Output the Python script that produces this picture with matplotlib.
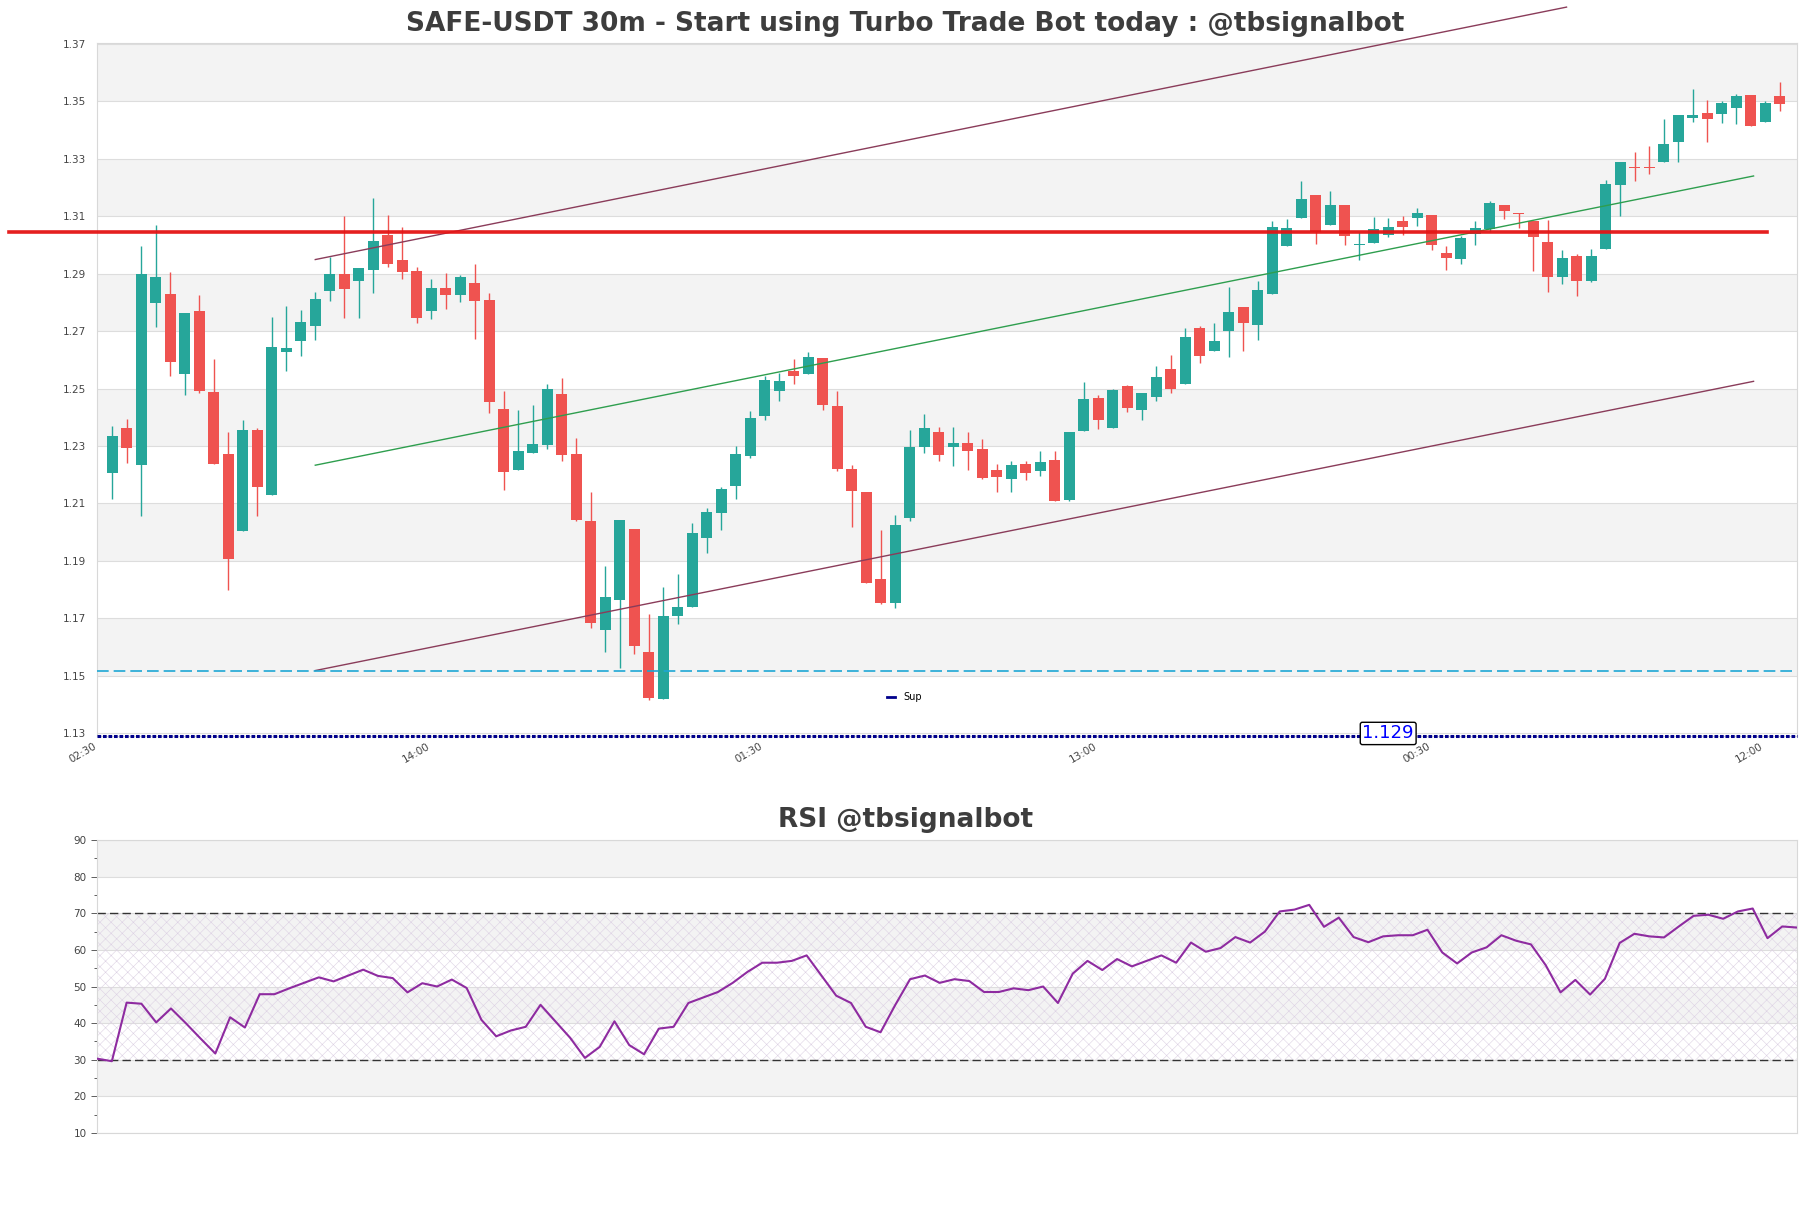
import matplotlib.pyplot as plt
from matplotlib.lines import Line2D
import numpy as np

# OHLC, 30m candles (first candle 03:00)
opens = [1.2206, 1.2364, 1.2234, 1.2798, 1.2828, 1.2552, 1.2769, 1.2489, 1.2271, 1.2003,
         1.2354, 1.2130, 1.2626, 1.2666, 1.2718, 1.2839, 1.2900, 1.2874, 1.2912, 1.3033,
         1.2946, 1.2908, 1.2769, 1.2849, 1.2827, 1.2868, 1.2809, 1.2428, 1.2215, 1.2274,
         1.2305, 1.2480, 1.2273, 1.2037, 1.1658, 1.1762, 1.2010, 1.1581, 1.1418, 1.1707,
         1.1741, 1.1980, 1.2068, 1.2161, 1.2265, 1.2403, 1.2493, 1.2561, 1.2552, 1.2606,
         1.2440, 1.2219, 1.2139, 1.1838, 1.1753, 1.2050, 1.2296, 1.2347, 1.2296, 1.2309,
         1.2288, 1.2215, 1.2185, 1.2236, 1.2213, 1.2250, 1.2113, 1.2351, 1.2468, 1.2362,
         1.2509, 1.2424, 1.2469, 1.2568, 1.2514, 1.2710, 1.2632, 1.2701, 1.2785, 1.2722,
         1.2829, 1.2995, 1.3092, 1.3174, 1.3068, 1.3139, 1.2998, 1.3008, 1.3035, 1.3084,
         1.3094, 1.3105, 1.2973, 1.2950, 1.3039, 1.3056, 1.3139, 1.3110, 1.3084, 1.3011,
         1.2888, 1.2963, 1.2874, 1.2985, 1.3210, 1.3273, 1.3273, 1.3288, 1.3358, 1.3441,
         1.3461, 1.3455, 1.3476, 1.3523, 1.3427, 1.3520]
highs = [1.2368, 1.2395, 1.2996, 1.3070, 1.2904, 1.2762, 1.2824, 1.2603, 1.2347, 1.2392,
         1.2364, 1.2748, 1.2786, 1.2772, 1.2835, 1.2957, 1.3102, 1.2921, 1.3164, 1.3104,
         1.3064, 1.2922, 1.2881, 1.2903, 1.2895, 1.2933, 1.2833, 1.2492, 1.2424, 1.2442,
         1.2515, 1.2536, 1.2327, 1.2141, 1.1881, 1.2041, 1.2010, 1.1714, 1.1810, 1.1855,
         1.2032, 1.2084, 1.2156, 1.2301, 1.2423, 1.2543, 1.2554, 1.2603, 1.2626, 1.2606,
         1.2493, 1.2232, 1.2139, 1.2009, 1.2058, 1.2357, 1.2412, 1.2367, 1.2367, 1.2347,
         1.2323, 1.2236, 1.2246, 1.2246, 1.2281, 1.2281, 1.2347, 1.2523, 1.2478, 1.2499,
         1.2513, 1.2485, 1.2579, 1.2617, 1.2710, 1.2719, 1.2727, 1.2854, 1.2785, 1.2875,
         1.3084, 1.3091, 1.3221, 1.3174, 1.3188, 1.3139, 1.3045, 1.3098, 1.3094, 1.3101,
         1.3129, 1.3105, 1.2997, 1.3032, 1.3084, 1.3153, 1.3139, 1.3110, 1.3084, 1.3087,
         1.2983, 1.2970, 1.2987, 1.3226, 1.3288, 1.3322, 1.3343, 1.3437, 1.3454, 1.3544,
         1.3506, 1.3502, 1.3527, 1.3523, 1.3502, 1.3568]
lows = [1.2116, 1.2241, 1.2055, 1.2715, 1.2545, 1.2479, 1.2483, 1.2237, 1.1798, 1.2003,
        1.2057, 1.2130, 1.2562, 1.2614, 1.2670, 1.2805, 1.2745, 1.2745, 1.2832, 1.2924,
        1.2881, 1.2727, 1.2743, 1.2776, 1.2800, 1.2672, 1.2416, 1.2146, 1.2215, 1.2274,
        1.2289, 1.2246, 1.2038, 1.1667, 1.1583, 1.1526, 1.1577, 1.1414, 1.1418, 1.1680,
        1.1738, 1.1928, 1.2009, 1.2115, 1.2258, 1.2389, 1.2455, 1.2514, 1.2552, 1.2424,
        1.2214, 1.2018, 1.1822, 1.1750, 1.1735, 1.2039, 1.2275, 1.2247, 1.2230, 1.2216,
        1.2184, 1.2140, 1.2140, 1.2182, 1.2196, 1.2109, 1.2109, 1.2351, 1.2358, 1.2362,
        1.2417, 1.2389, 1.2455, 1.2483, 1.2514, 1.2590, 1.2632, 1.2611, 1.2632, 1.2670,
        1.2829, 1.2995, 1.3092, 1.3002, 1.3068, 1.2998, 1.2947, 1.3008, 1.3028, 1.3035,
        1.3067, 1.2981, 1.2912, 1.2933, 1.3001, 1.3046, 1.3091, 1.3058, 1.2908, 1.2837,
        1.2863, 1.2822, 1.2870, 1.2985, 1.3102, 1.3223, 1.3247, 1.3288, 1.3289, 1.3429,
        1.3358, 1.3426, 1.3421, 1.3414, 1.3427, 1.3465]
closes = [1.2336, 1.2293, 1.2897, 1.2887, 1.2594, 1.2762, 1.2493, 1.2237, 1.1906, 1.2357,
          1.2158, 1.2644, 1.2640, 1.2731, 1.2810, 1.2897, 1.2846, 1.2921, 1.3015, 1.2932,
          1.2907, 1.2747, 1.2849, 1.2824, 1.2888, 1.2803, 1.2454, 1.2211, 1.2283, 1.2308,
          1.2498, 1.2268, 1.2042, 1.1683, 1.1773, 1.2041, 1.1603, 1.1422, 1.1707, 1.1738,
          1.1997, 1.2070, 1.2149, 1.2271, 1.2399, 1.2530, 1.2525, 1.2545, 1.2610, 1.2441,
          1.2219, 1.2144, 1.1822, 1.1753, 1.2025, 1.2298, 1.2361, 1.2268, 1.2309, 1.2282,
          1.2187, 1.2192, 1.2233, 1.2206, 1.2243, 1.2109, 1.2347, 1.2464, 1.2389, 1.2496,
          1.2431, 1.2485, 1.2540, 1.2497, 1.2679, 1.2614, 1.2665, 1.2768, 1.2729, 1.2842,
          1.3063, 1.3060, 1.3160, 1.3045, 1.3139, 1.3030, 1.3004, 1.3056, 1.3063, 1.3063,
          1.3112, 1.2998, 1.2953, 1.3025, 1.3060, 1.3146, 1.3118, 1.3106, 1.3026, 1.2887,
          1.2956, 1.2874, 1.2963, 1.3212, 1.3288, 1.3268, 1.3268, 1.3350, 1.3451, 1.3454,
          1.3437, 1.3495, 1.3520, 1.3414, 1.3495, 1.3490]

rsi = [30.3, 29.6, 45.6, 45.3, 40.2, 44.0, 40.0, 35.8, 31.7, 41.6,
       38.8, 47.9, 47.9, 49.5, 51.0, 52.5, 51.4, 53.0, 54.6, 52.9,
       52.3, 48.4, 50.9, 50.0, 51.9, 49.6, 40.9, 36.4, 38.0, 39.0,
       45.0, 40.5, 36.0, 30.5, 33.5, 40.5, 34.0, 31.5, 38.5, 39.0,
       45.5, 47.0, 48.5, 51.0, 54.0, 56.5, 56.5, 57.0, 58.5, 53.0,
       47.5, 45.5, 39.0, 37.5, 45.0, 52.0, 53.0, 51.0, 52.0, 51.5,
       48.5, 48.5, 49.5, 49.0, 50.0, 45.5, 53.5, 57.0, 54.5, 57.5,
       55.5, 57.0, 58.5, 56.5, 62.0, 59.5, 60.5, 63.5, 62.0, 65.0,
       70.5, 71.0, 72.3, 66.3, 68.8, 63.5, 62.1, 63.7, 64.0, 64.0,
       65.5, 59.3, 56.3, 59.3, 60.7, 64.0, 62.5, 61.5, 55.8, 48.4,
       51.8, 47.8, 52.1, 61.9, 64.4, 63.7, 63.4, 66.4, 69.3, 69.6,
       68.5, 70.5, 71.3, 63.2, 66.4, 66.1]

tick_labels = ['02:30', '14:00', '01:30', '13:00', '00:30', '12:00']

# channel / levels
upper_x, upper_y = [14.0, 100.3], [1.2949, 1.3828]
mid_x, mid_y = [14.0, 113.2], [1.2233, 1.3240]
lower_x, lower_y = [14.0, 113.2], [1.1518, 1.2525]
resist_x, resist_level = [-7.1, 114.1], 1.3045
support_level = 1.1515
sup_level = 1.129
sup_label_x = 88

UP = '#26a69a'
DOWN = '#ef5350'
BAND = '#f3f3f3'
GRID = '#dddddd'
TXT = '#444444'
NAVY = '#00008b'

plt.rcParams['hatch.linewidth'] = 0.4

fig = plt.figure(figsize=(18.11, 12.08), dpi=100)
ax = fig.add_axes([0.0536, 0.3907, 0.9387, 0.5737])
ax2 = fig.add_axes([0.0536, 0.0621, 0.9387, 0.2425])

# --- price chart ---
o = np.array(opens); h = np.array(highs); l = np.array(lows); c = np.array(closes)
x = np.arange(len(o))
up = c >= o
cols = np.where(up, UP, DOWN)
body_low = np.minimum(o, c)
body_h = np.maximum(np.abs(c - o), 0.0004)

yticks = np.round(np.arange(1.13, 1.3701, 0.02), 2)
for k in range(len(yticks) - 1):
    if k % 2 == 1:
        ax.axhspan(yticks[k], yticks[k + 1], color=BAND, lw=0, zorder=0)
for yt in yticks:
    ax.axhline(yt, color=GRID, lw=0.8, zorder=0.5)

ax.vlines(x, l, h, colors=cols, lw=1, zorder=2)
ax.bar(x, body_h, bottom=body_low, width=0.75, color=cols, zorder=3, lw=0)

ax.plot(upper_x, upper_y, color='#8a3c5a', lw=1, zorder=4, clip_on=False)
ax.plot(mid_x, mid_y, color='#2e9e4e', lw=1, zorder=4)
ax.plot(lower_x, lower_y, color='#8a3c5a', lw=1, zorder=4)
ax.plot(resist_x, [resist_level] * 2, color='#e41414', lw=2.6, alpha=0.95,
        zorder=4, clip_on=False)
ax.axhline(support_level, color='#1ea7d4', lw=1.2, ls=(0, (7, 3)), zorder=4)
ax.axhline(sup_level, color=NAVY, lw=2.2, ls=(0, (1.2, 0.6)), zorder=5,
           clip_on=False)
ax.text(sup_label_x, sup_level + 0.0009, f'{sup_level:.3f}', color='blue',
        fontsize=13, ha='center', va='center', zorder=6,
        bbox=dict(boxstyle='round,pad=0.12', fc='white', ec='black', lw=1))

ax.legend(handles=[Line2D([], [], color=NAVY, lw=2)], labels=['Sup'],
          loc='center', bbox_to_anchor=(0.475, 0.056), frameon=False,
          fontsize=7, handlelength=0.8, handletextpad=0.8)

ax.set_xlim(-1.05, 116.2)
ax.set_ylim(1.129, 1.3703)
ax.set_yticks(yticks)
ax.set_yticklabels([f'{v:.2f}' for v in yticks])
ax.set_xticks(np.arange(-1, len(o), 23)[:len(tick_labels)])
ax.set_xticklabels(tick_labels, rotation=30, ha='right')
ax.tick_params(axis='both', length=0, labelsize=7.5, colors=TXT)
ax.tick_params(axis='y', pad=8)
ax.tick_params(axis='x', pad=4)
for sp in ax.spines.values():
    sp.set_color('#d8d8d8')
fig.text(0.5, 0.9800, 'SAFE-USDT 30m - Start using Turbo Trade Bot today : @tbsignalbot',
         fontsize=19, fontweight='bold', color='#3d3d3d', ha='center', va='center')

# --- RSI ---
r = np.array(rsi)
xr = np.arange(len(r))
rt = np.arange(10, 91, 10)
for k in range(len(rt) - 1):
    if k % 2 == 1:
        ax2.axhspan(rt[k], rt[k + 1], color=BAND, lw=0, zorder=0)
for yt in rt:
    ax2.axhline(yt, color=GRID, lw=0.8, zorder=0.5)
ax2.fill_between([0, len(r) - 1], 30, 70, facecolor='none', hatch='xxx',
                 edgecolor='#ddd2e4', lw=0, zorder=1)
ax2.axhline(70, color='#333333', lw=1, ls=(0, (6, 3)), zorder=2)
ax2.axhline(30, color='#333333', lw=1, ls=(0, (6, 3)), zorder=2)
ax2.plot(xr, r, color='#8e2ba0', lw=1.5, zorder=3)
ax2.set_xlim(0, len(r) - 1)
ax2.set_ylim(10, 90)
ax2.set_yticks(rt)
ax2.set_yticks(np.arange(15, 90, 10), minor=True)
ax2.set_xticks([])
ax2.tick_params(axis='y', which='major', length=4, labelsize=7.5, colors=TXT, width=0.6)
ax2.tick_params(axis='y', which='minor', length=2.5, colors=TXT, width=0.6)
for sp in ax2.spines.values():
    sp.set_color('#d8d8d8')
fig.text(0.5, 0.3212, 'RSI @tbsignalbot', fontsize=19, fontweight='bold',
         color='#3d3d3d', ha='center', va='center')

fig.savefig('out.png', dpi=100)
